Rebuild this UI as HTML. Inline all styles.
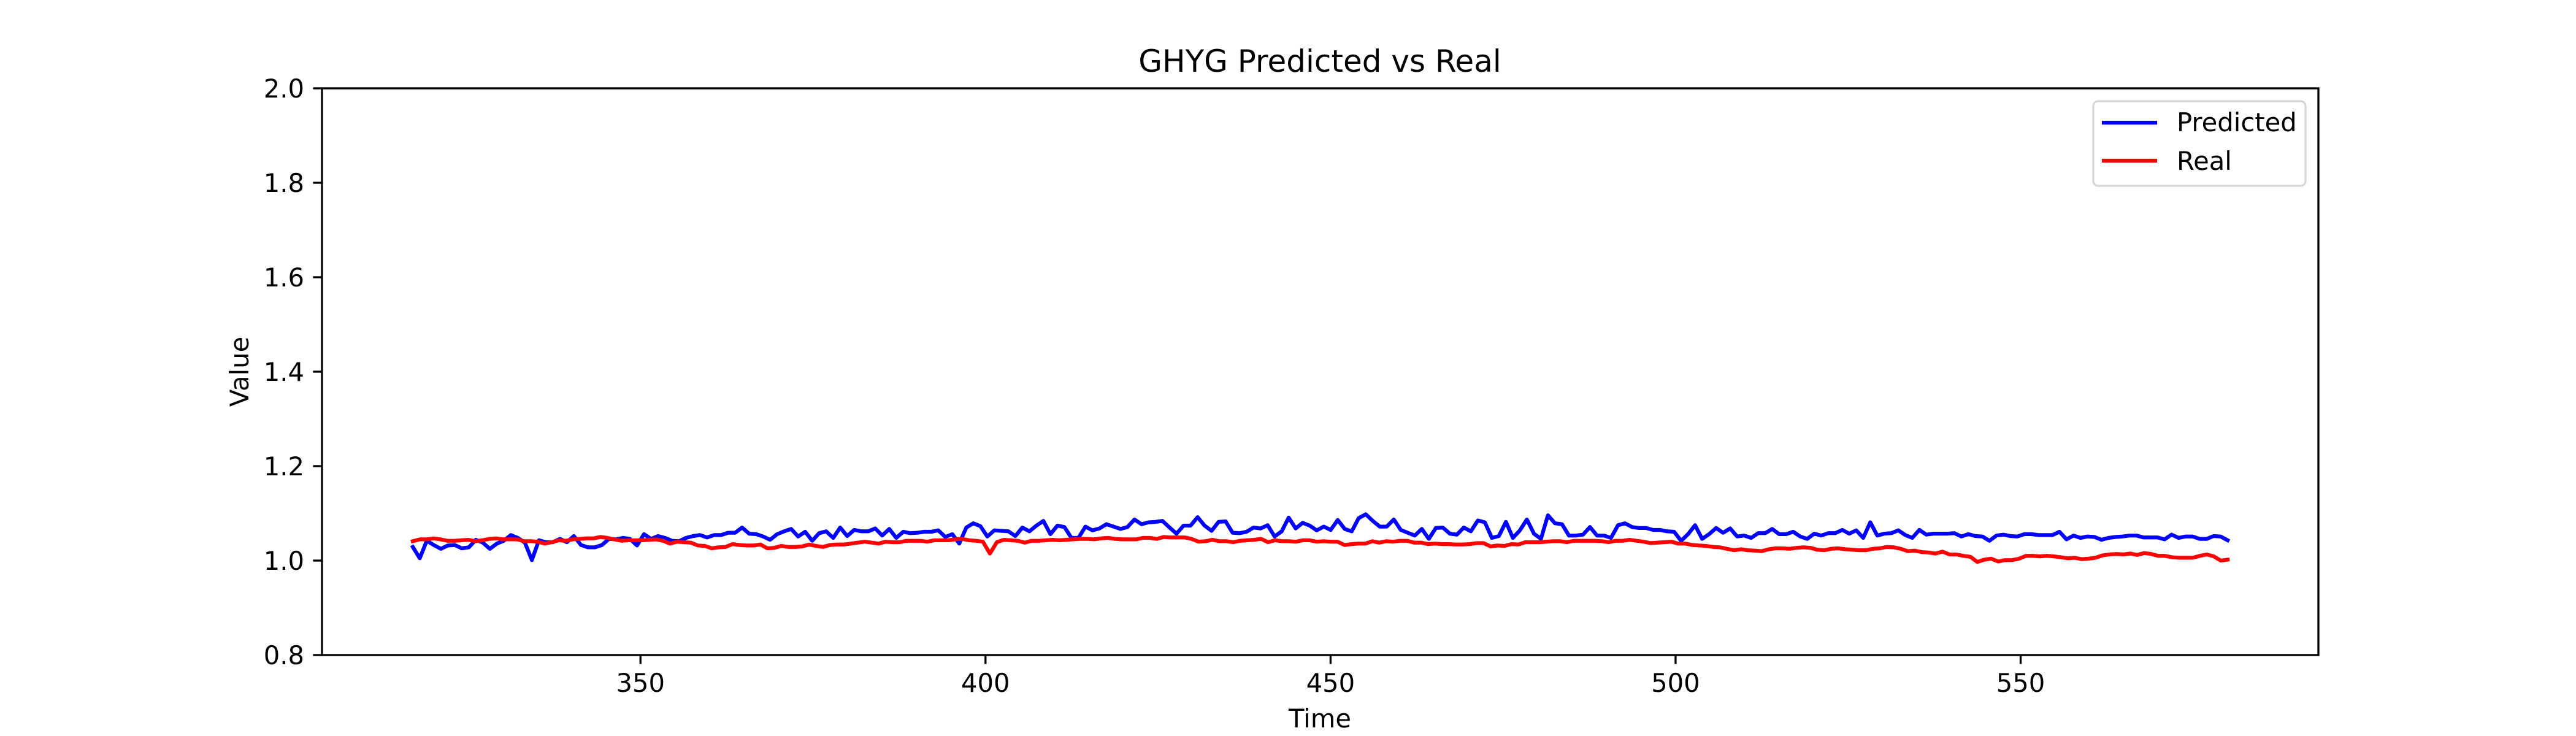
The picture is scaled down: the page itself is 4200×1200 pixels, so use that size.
<!DOCTYPE html>
<html><head><meta charset="utf-8"><style>
html,body{margin:0;padding:0;background:#fff;}
svg{display:block;font-family:"DejaVu Sans","Liberation Sans",sans-serif;}
</style></head><body>
<svg id="chart" width="4200" height="1200" viewBox="0 0 4200 1200" xmlns="http://www.w3.org/2000/svg">
<rect x="0" y="0" width="4200" height="1200" fill="#fff"/>
<text x="2152" y="117" font-size="50" text-anchor="middle">GHYG Predicted vs Real</text>
<g id="xticks"></g>
<g id="yticks"></g>
<g id="series"></g>
<rect x="525" y="144" width="3255" height="924" fill="none" stroke="#000" stroke-width="3.3"/>
<text x="2152" y="1186" font-size="41.7" text-anchor="middle">Time</text>
<text x="405" y="606" font-size="41.7" text-anchor="middle" transform="rotate(-90 405 606)">Value</text>
<g>
<rect x="3413" y="165" width="346" height="138" rx="8" fill="#fff" stroke="#d6d6d6" stroke-width="3.3"/>
<line x1="3427" y1="200" x2="3517" y2="200" stroke="#0000ff" stroke-width="6.25"/>
<text x="3549" y="214" font-size="41.7">Predicted</text>
<line x1="3427" y1="262" x2="3517" y2="262" stroke="#ff0000" stroke-width="6.25"/>
<text x="3549" y="277" font-size="41.7">Real</text>
</g>
</svg>
<script>
const xTickValues = [350, 400, 450, 500, 550];
const yTickValues = [0.8, 1.0, 1.2, 1.4, 1.6, 1.8, 2.0];
const yTickLabels = ["0.8", "1.0", "1.2", "1.4", "1.6", "1.8", "2.0"];
const timeStart = 317;
const timeEnd = 580;
const predicted = [
1.029,1.005,1.042,1.033,1.025,1.032,1.033,1.026,1.028,1.044,1.038,1.025,1.036,1.042,1.054,1.048,1.038,1.001,1.043,1.039,1.039,1.046,1.039,1.052,1.033,1.028,1.028,1.033,1.046,1.045,1.048,1.046,1.032,1.056,1.046,1.052,1.048,1.042,1.041,1.048,1.052,1.054,1.049,1.054,1.054,1.059,1.059,1.070,1.057,1.056,1.051,1.044,1.056,1.062,1.067,1.051,1.061,1.042,1.058,1.062,1.048,1.070,1.052,1.065,1.062,1.062,1.068,
1.053,1.067,1.048,1.061,1.058,1.059,1.061,1.061,1.064,1.050,1.056,1.036,1.070,1.079,1.073,1.051,1.064,1.063,1.062,1.052,1.070,1.062,1.074,1.084,1.056,1.074,1.071,1.048,1.048,1.072,1.064,1.068,1.077,1.072,1.067,1.071,1.087,1.077,1.081,1.082,1.084,1.070,1.057,1.074,1.074,1.092,1.074,1.063,1.082,1.083,1.059,1.058,1.061,1.070,1.068,1.075,1.051,1.062,1.091,1.068,1.080,1.074,1.064,1.072,1.065,1.086,1.067,
1.062,1.090,1.098,1.084,1.072,1.072,1.087,1.065,1.059,1.053,1.067,1.046,1.069,1.070,1.057,1.055,1.070,1.062,1.085,1.081,1.048,1.052,1.082,1.048,1.064,1.087,1.057,1.046,1.096,1.079,1.077,1.053,1.053,1.055,1.071,1.053,1.053,1.048,1.075,1.079,1.071,1.069,1.069,1.065,1.065,1.062,1.061,1.042,1.056,1.075,1.046,1.056,1.069,1.059,1.068,1.051,1.053,1.048,1.058,1.058,1.067,1.056,1.056,1.061,1.051,1.046,1.057,
1.053,1.058,1.058,1.065,1.057,1.064,1.048,1.081,1.053,1.057,1.058,1.064,1.054,1.048,1.065,1.055,1.057,1.057,1.057,1.058,1.051,1.056,1.052,1.051,1.042,1.053,1.055,1.052,1.051,1.056,1.056,1.054,1.054,1.054,1.061,1.045,1.053,1.048,1.051,1.050,1.044,1.048,1.050,1.051,1.053,1.053,1.049,1.049,1.049,1.045,1.055,1.048,1.051,1.051,1.046,1.046,1.052,1.051,1.043
];
const real = [
1.041,1.045,1.045,1.047,1.045,1.042,1.042,1.043,1.044,1.041,1.043,1.046,1.047,1.045,1.045,1.045,1.041,1.041,1.040,1.036,1.039,1.043,1.042,1.045,1.046,1.047,1.047,1.050,1.048,1.045,1.042,1.043,1.043,1.043,1.044,1.045,1.042,1.036,1.040,1.039,1.038,1.032,1.031,1.026,1.028,1.029,1.035,1.033,1.032,1.032,1.034,1.026,1.027,1.031,1.029,1.029,1.030,1.034,1.031,1.029,1.033,1.034,1.034,1.036,1.038,1.040,1.038,1.036,1.040,
1.039,1.039,1.042,1.042,1.042,1.040,1.043,1.043,1.043,1.045,1.046,1.043,1.042,1.040,1.015,1.039,1.044,1.043,1.042,1.038,1.042,1.042,1.043,1.044,1.043,1.044,1.045,1.046,1.046,1.045,1.047,1.048,1.046,1.045,1.045,1.045,1.048,1.048,1.046,1.050,1.049,1.049,1.049,1.046,1.040,1.041,1.044,1.041,1.041,1.039,1.042,1.043,1.044,1.046,1.039,1.043,1.041,1.041,1.040,1.043,1.043,1.040,1.041,1.040,1.040,1.033,1.035,
1.036,1.036,1.041,1.038,1.041,1.040,1.042,1.042,1.038,1.038,1.035,1.036,1.035,1.035,1.034,1.034,1.035,1.037,1.037,1.030,1.032,1.031,1.035,1.034,1.039,1.039,1.039,1.040,1.041,1.041,1.039,1.042,1.042,1.042,1.042,1.041,1.039,1.042,1.042,1.044,1.042,1.040,1.037,1.038,1.039,1.040,1.036,1.036,1.033,1.032,1.031,1.029,1.028,1.025,1.022,1.024,1.022,1.021,1.020,1.024,1.026,1.026,1.025,1.027,1.028,1.027,1.023,
1.022,1.025,1.026,1.024,1.023,1.022,1.022,1.025,1.026,1.029,1.028,1.025,1.020,1.021,1.018,1.017,1.015,1.019,1.013,1.013,1.010,1.008,0.997,1.002,1.004,0.998,1.001,1.001,1.004,1.010,1.010,1.009,1.010,1.009,1.007,1.005,1.006,1.003,1.004,1.006,1.011,1.013,1.014,1.013,1.015,1.012,1.016,1.014,1.010,1.010,1.007,1.006,1.006,1.006,1.010,1.013,1.009,1.000,1.002
];

const NS = "http://www.w3.org/2000/svg";
const AX = {left: 525, right: 3780, top: 144, bottom: 1068};
const xMin = timeStart - (timeEnd - timeStart) * 0.05;
const xMax = timeEnd + (timeEnd - timeStart) * 0.05;
const yMin = 0.8, yMax = 2.0;
function xScale(t) { return AX.left + (t - xMin) / (xMax - xMin) * (AX.right - AX.left); }
function yScale(v) { return AX.bottom - (v - yMin) / (yMax - yMin) * (AX.bottom - AX.top); }
function mk(tag, attrs) {
  const el = document.createElementNS(NS, tag);
  for (const k in attrs) el.setAttribute(k, attrs[k]);
  return el;
}
const xg = document.getElementById('xticks');
xTickValues.forEach(function (v) {
  const x = xScale(v);
  const tk = mk('line', {x1: x, y1: AX.bottom, x2: x, y2: AX.bottom + 14.6, stroke: '#000', 'stroke-width': 3.3});
  
  
  xg.appendChild(tk);
  const tx = mk('text', {x: x, y: AX.bottom + 60, 'font-size': 41.7, 'text-anchor': 'middle'});
  
  
  tx.textContent = String(v);
  xg.appendChild(tx);
});
const yg = document.getElementById('yticks');
yTickValues.forEach(function (v, i) {
  const y = yScale(v);
  const tk = mk('line', {x1: AX.left - 14.6, y1: y, x2: AX.left, y2: y, stroke: '#000', 'stroke-width': 3.3});
  
  
  yg.appendChild(tk);
  const tx = mk('text', {x: AX.left - 29, y: y + 15, 'font-size': 41.7, 'text-anchor': 'end'});
  
  
  tx.textContent = yTickLabels[i];
  yg.appendChild(tx);
});
function pathFor(vals) {
  const n = vals.length;
  return vals.map(function (v, i) {
    const t = timeStart + (timeEnd - timeStart) * i / (n - 1);
    return (i ? 'L' : 'M') + xScale(t).toFixed(1) + ',' + yScale(v).toFixed(1);
  }).join(' ');
}
const sg = document.getElementById('series');
const pPred = mk('path', {d: pathFor(predicted), fill: 'none', stroke: '#0000ff', 'stroke-width': 6.25, 'stroke-linejoin': 'round', 'stroke-linecap': 'square'});


sg.appendChild(pPred);
const pReal = mk('path', {d: pathFor(real), fill: 'none', stroke: '#ff0000', 'stroke-width': 6.25, 'stroke-linejoin': 'round', 'stroke-linecap': 'square'});


sg.appendChild(pReal);
</script>
</body></html>
